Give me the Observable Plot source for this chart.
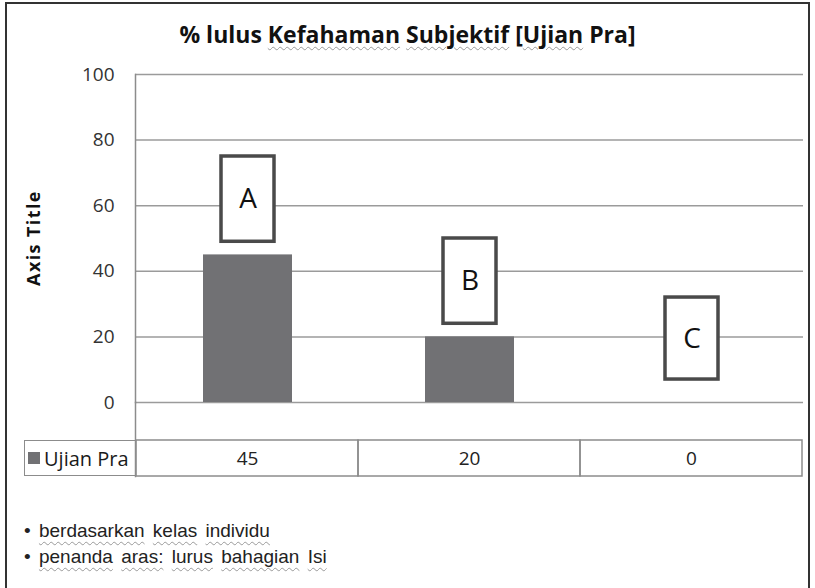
<!DOCTYPE html>
<html>
<head>
<meta charset="utf-8">
<script src="https://cdn.jsdelivr.net/npm/d3@7"></script>
<script src="https://cdn.jsdelivr.net/npm/@observablehq/plot@0.6"></script>
<style>
  html, body { margin: 0; padding: 0; background: #fff; }
  #wrap { position: relative; width: 815px; height: 588px; overflow: hidden; font-family: "Open Sans", sans-serif; color: #222; }
  #frame { position: absolute; left: 5px; top: 2px; width: 805px; height: 600px; border: 2px solid #333; box-sizing: border-box; }
  #title { position: absolute; left: 0; width: 815px; top: 18px; text-align: center; font-weight: bold; font-size: 23px; color: #111; letter-spacing: 0px; }
  .wavy { text-decoration: underline wavy #9a9a9a; text-decoration-thickness: 1px; text-underline-offset: 3px; }
  #ytitle { position: absolute; left: 33px; top: 238px; transform: translate(-50%, -50%) rotate(-90deg); font-weight: bold; font-size: 18px; letter-spacing: 1.4px; white-space: nowrap; color: #111; }
  #main, #table { position: absolute; left: 0; }
  #main { top: 0; }
  #table { top: 402px; }
  #legend { position: absolute; left: 24px; top: 440px; width: 111px; height: 36px; box-sizing: border-box; border-left: 1.5px solid #8c8c8c; border-top: 1.5px solid #8c8c8c; border-bottom: 1.5px solid #8c8c8c; font-size: 20px; display: flex; align-items: center; color: #1a1a1a; }
  #legend .sw { width: 12px; height: 12px; margin-left: 3px; margin-right: 4px; }
  #notes { position: absolute; left: 24px; top: 518px; font-family: "Liberation Sans", Arial, sans-serif; font-size: 19px; line-height: 26px; color: #222; word-spacing: 3px; }
  #notes .wavy { text-underline-offset: 4px; }
</style>
</head>
<body>
<div id="wrap">
  <div id="frame"></div>
  <div id="main"></div>
  <div id="table"></div>
  <div id="title"></div>
  <div id="ytitle"></div>
  <div id="legend"></div>
  <div id="notes"></div>
</div>
<script>
// ---- data ----
const chartTitle = ["% lulus ", {w: "Kefahaman"}, " ", {w: "Subjektif"}, " [", {w: "Ujian"}, " Pra]"];
const yAxisTitle = "Axis Title";
const categories = ["A", "B", "C"];
const seriesName = "Ujian Pra";
const values = [45, 20, 0];
const yTicks = [0, 20, 40, 60, 80, 100];
const boxLabels = ["A", "B", "C"];
const boxLow = [49, 24, 7];
const boxHigh = [75, 50, 32];
const notes = [["berdasarkan", "kelas", "individu"], ["penanda", "aras:", "lurus", "bahagian", "Isi"]];

// ---- styles ----
const barColor = "#717174";
const gridColor = "#9b9b9b";
const tableColor = "#8c8c8c";

const data = categories.map((c, i) => ({cat: c, value: values[i]}));
const boxes = boxLabels.map((l, i) => ({cat: categories[i], label: l, lo: boxLow[i], hi: boxHigh[i]}));

// title
document.getElementById("title").innerHTML = chartTitle.map(p => typeof p === "string" ? p : `<span class="wavy">${p.w}</span>`).join("");
document.getElementById("ytitle").textContent = yAxisTitle;

// main chart
const main = Plot.plot({
  width: 815,
  height: 404,
  marginTop: 74,
  marginBottom: 2,
  marginLeft: 135,
  marginRight: 12,
  style: {fontFamily: "Open Sans", fontSize: "19px", color: "#333", background: "transparent", overflow: "visible"},
  x: {domain: categories, paddingInner: 0.6, paddingOuter: 0.3, axis: null},
  y: {domain: [0, 100], axis: null},
  marks: [
    Plot.ruleY(yTicks, {stroke: gridColor, strokeWidth: 1.5}),
    Plot.frame({anchor: "left", stroke: tableColor, strokeWidth: 1.5}),
    Plot.axisY({ticks: yTicks, tickSize: 0, tickPadding: 21, label: null, fill: "#333", fontSize: 19}),
    Plot.barY(data, {x: "cat", y: "value", fill: barColor}),
    Plot.barY(boxes, {x: "cat", y1: "lo", y2: "hi", fill: "white", stroke: "#4a4a4a", strokeWidth: 3.5, insetLeft: 18, insetRight: 18}),
    Plot.text(boxes, {x: "cat", y: d => (d.lo + d.hi) / 2, text: "label", fontSize: 28, fill: "#111"})
  ]
});
document.getElementById("main").appendChild(main);

// data table under the axis
const table = Plot.plot({
  width: 815,
  height: 76,
  marginTop: 38,
  marginBottom: 2,
  marginLeft: 135,
  marginRight: 12,
  style: {fontFamily: "Open Sans", fontSize: "19px", color: "#222", background: "transparent", overflow: "visible"},
  x: {domain: categories, padding: 0, axis: null},
  y: {domain: [seriesName], padding: 0, axis: null},
  marks: [
    Plot.frame({anchor: "left", stroke: tableColor, strokeWidth: 1.5, insetTop: -38}),
    Plot.cell(data, {x: "cat", y: () => seriesName, fill: "none", stroke: tableColor, strokeWidth: 1.5}),
    Plot.text(data, {x: "cat", y: () => seriesName, text: d => String(d.value), fontSize: 19, fill: "#222"})
  ]
});
document.getElementById("table").appendChild(table);

// legend cell
const legend = document.getElementById("legend");
legend.innerHTML = `<span class="sw" style="background:${barColor}"></span><span>${seriesName}</span>`;

// notes
document.getElementById("notes").innerHTML = notes.map(words =>
  "• " + words.map(w => `<span class="wavy">${w}</span>`).join(" ")
).join("<br>");
</script>
</body>
</html>
